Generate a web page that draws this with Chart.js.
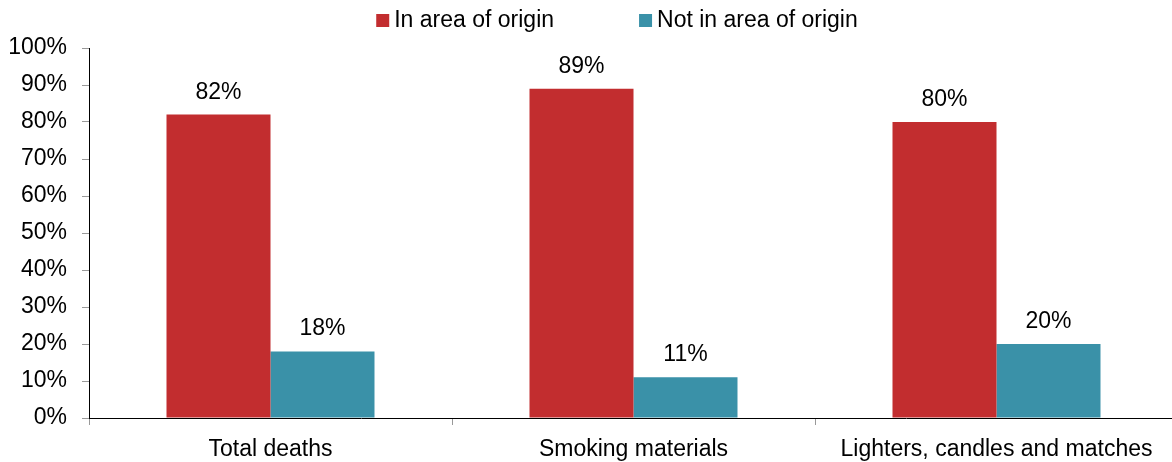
<!DOCTYPE html>
<html>
<head>
    <title>Victim location by heat source</title>
    <style>
        html, body {
            margin: 0;
            padding: 0;
            background-color: white;
        }
        .wrap {
            width: 1172px;
            height: 462px;
            overflow: hidden;
        }
    </style>
</head>
<body>
    <div class="wrap">
        <!-- slightly wider than the window: the last category runs off the right edge -->
        <canvas id="originChart" width="1178" height="462"></canvas>
    </div>

    <script src="https://cdn.jsdelivr.net/npm/chart.js@4"></script>
    <script>
    const categories = ['Total deaths', 'Smoking materials', 'Lighters, candles and matches'];
    const inArea = [82, 89, 80];
    const notInArea = [18, 11, 20];
    const seriesNames = ['In area of origin', 'Not in area of origin'];

    const FONT = { family: 'Arial, "Liberation Sans", sans-serif', size: 23 };
    const fontStr = FONT.size + 'px ' + FONT.family;

    // prints "NN%" above each bar
    const valueLabels = {
        id: 'valueLabels',
        afterDatasetsDraw(chart) {
            const ctx = chart.ctx;
            ctx.save();
            ctx.font = fontStr;
            ctx.fillStyle = '#000';
            ctx.textAlign = 'center';
            ctx.textBaseline = 'alphabetic';
            chart.data.datasets.forEach((ds, i) => {
                chart.getDatasetMeta(i).data.forEach((bar, j) => {
                    ctx.fillText(ds.data[j] + '%', bar.x, bar.y - 16);
                });
            });
            ctx.restore();
        }
    };

    // legend row: small square + name, spaced wide apart
    const topLegend = {
        id: 'topLegend',
        afterDraw(chart) {
            const ctx = chart.ctx;
            const box = 13, gap = 5, spacing = 85;
            ctx.save();
            ctx.font = fontStr;
            const widths = chart.data.datasets.map(ds => ctx.measureText(ds.label).width);
            const total = widths.reduce((a, w) => a + box + gap + w, 0) + spacing * (widths.length - 1);
            let x = 617 - total / 2;
            const y = 20;
            ctx.textBaseline = 'middle';
            ctx.textAlign = 'left';
            chart.data.datasets.forEach((ds, i) => {
                ctx.fillStyle = ds.backgroundColor;
                ctx.fillRect(x, y - 6, box, box);
                ctx.fillStyle = '#000';
                ctx.fillText(ds.label, x + box + gap, y + 1);
                x += box + gap + widths[i] + spacing;
            });
            ctx.restore();
        }
    };

    const ctx = document.getElementById('originChart').getContext('2d');
    new Chart(ctx, {
        type: 'bar',
        data: {
            labels: categories,
            datasets: [
                { label: seriesNames[0], data: inArea, backgroundColor: '#c22d2f' },
                { label: seriesNames[1], data: notInArea, backgroundColor: '#3a91a8' }
            ]
        },
        options: {
            responsive: false,
            animation: false,
            categoryPercentage: 0.573,
            barPercentage: 1,
            layout: { padding: { left: 9, right: 0, top: 48, bottom: 0 } },
            plugins: {
                legend: { display: false },
                tooltip: { enabled: false }
            },
            scales: {
                x: {
                    grid: { drawOnChartArea: false, tickLength: 7, color: '#999' },
                    border: { color: '#000', width: 1 },
                    ticks: { color: '#000', font: FONT, padding: 11, maxRotation: 0 },
                    afterFit: s => { s.height = 44; }
                },
                y: {
                    min: 0,
                    max: 100,
                    grid: { drawOnChartArea: false, tickLength: 7, color: '#999' },
                    border: { color: '#000', width: 1 },
                    ticks: {
                        stepSize: 10,
                        color: '#000',
                        font: FONT,
                        padding: 15,
                        callback: v => v + '%'
                    },
                    afterFit: s => { s.width = 80; }
                }
            }
        },
        plugins: [valueLabels, topLegend]
    });
    </script>
</body>
</html>
